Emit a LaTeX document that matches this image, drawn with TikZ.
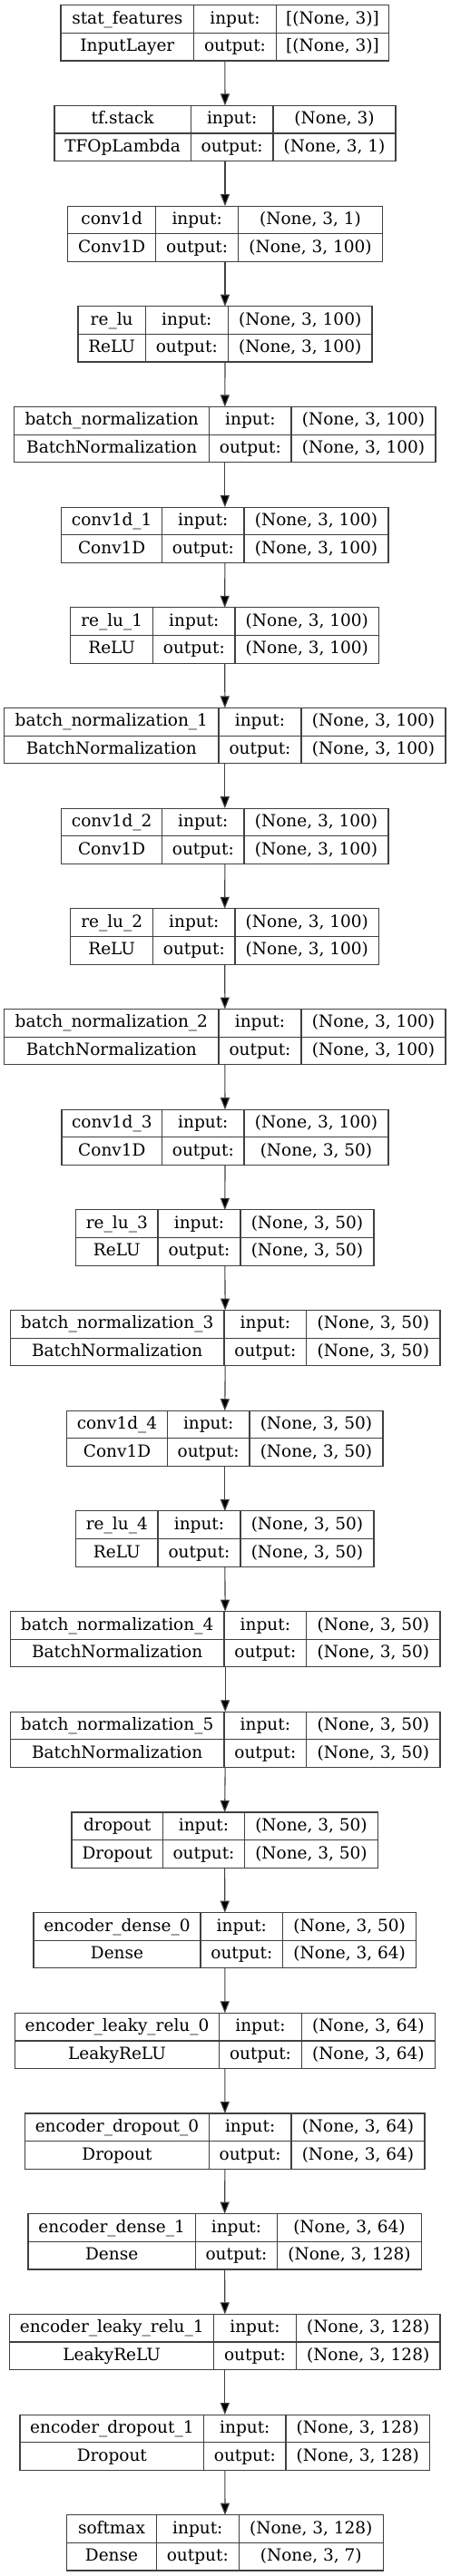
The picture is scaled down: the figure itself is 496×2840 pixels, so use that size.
\documentclass[tikz,border=0pt]{standalone}
\usepackage{fontspec}
\setmainfont{DejaVu Serif}
\usetikzlibrary{arrows.meta}
\tikzset{
  boxline/.style={draw=black!75, line width=1.1pt},
  cell/.style={inner sep=0pt, outer sep=0pt, font=\fontsize{18.5}{22}\selectfont, text=black, anchor=base},
  flow/.style={draw=black!75, line width=1.1pt, -{Triangle[length=13pt,width=10pt,fill=black]}},
}
\newcommand\layer[9]{%
  \pgfmathsetmacro\LyTop{5.7+110.68*#1}%
  \pgfmathsetmacro\LyBot{\LyTop+61.3}%
  \pgfmathsetmacro\LyMid{\LyTop+30.65}%
  \pgfmathsetmacro\LyRa{\LyTop+20.4}%
  \pgfmathsetmacro\LyRb{\LyTop+51.1}%
  \pgfmathsetmacro\LyWd{#5-#2}%
  \pgfmathsetmacro\LyCa{(#2+#3)/2}%
  \pgfmathsetmacro\LyCb{(#3+#4)/2}%
  \pgfmathsetmacro\LyCc{(#4+#5)/2}%
  \node[boxline, minimum width=\LyWd pt, minimum height=61.3pt, inner sep=0pt, outer sep=0pt, anchor=north west] (l#1) at (#2,\LyTop) {};
  \draw[boxline] (#2,\LyMid) -- (#5,\LyMid);
  \draw[boxline] (#3,\LyTop) -- (#3,\LyBot);
  \draw[boxline] (#4,\LyTop) -- (#4,\LyBot);
  \node[cell] (l#1t) at (\LyCa,\LyRa) {#6};
  \node[cell] (l#1c) at (\LyCa,\LyRb) {#7};
  \node[cell] (l#1i) at (\LyCb,\LyRa) {input:};
  \node[cell] (l#1o) at (\LyCb,\LyRb) {output:};
  \node[cell] (l#1a) at (\LyCc,\LyRa) {#8};
  \node[cell] (l#1b) at (\LyCc,\LyRb) {#9};
}
\begin{document}
\begin{tikzpicture}[x=1pt,y=-1pt]
\fill[white] (0,0) rectangle (496,2840);
\useasboundingbox (0,0) rectangle (496,2840);
\layer{0}{67}{213.7}{304.3}{428.7}{stat\_features}{InputLayer}{[(None, 3)]}{[(None, 3)]}
\layer{1}{60}{210.3}{301}{436}{tf.stack}{TFOpLambda}{(None, 3)}{(None, 3, 1)}
\layer{2}{74.7}{171.7}{262.7}{421.3}{conv1d}{Conv1D}{(None, 3, 1)}{(None, 3, 100)}
\layer{3}{86}{160.3}{251.3}{410}{re\_lu}{ReLU}{(None, 3, 100)}{(None, 3, 100)}
\layer{4}{15.7}{230.7}{321}{480}{batch\_normalization}{BatchNormalization}{(None, 3, 100)}{(None, 3, 100)}
\layer{5}{67.7}{178.7}{269}{428}{conv1d\_1}{Conv1D}{(None, 3, 100)}{(None, 3, 100)}
\layer{6}{77.7}{168.7}{259}{417.7}{re\_lu\_1}{ReLU}{(None, 3, 100)}{(None, 3, 100)}
\layer{7}{4.7}{241}{332}{491}{batch\_normalization\_1}{BatchNormalization}{(None, 3, 100)}{(None, 3, 100)}
\layer{8}{67.7}{178.7}{269}{428}{conv1d\_2}{Conv1D}{(None, 3, 100)}{(None, 3, 100)}
\layer{9}{77.7}{168.7}{259}{417.7}{re\_lu\_2}{ReLU}{(None, 3, 100)}{(None, 3, 100)}
\layer{10}{4.7}{241}{332}{491}{batch\_normalization\_2}{BatchNormalization}{(None, 3, 100)}{(None, 3, 100)}
\layer{11}{68}{178.7}{269}{428}{conv1d\_3}{Conv1D}{(None, 3, 100)}{(None, 3, 50)}
\layer{12}{83.7}{174}{265}{412}{re\_lu\_3}{ReLU}{(None, 3, 50)}{(None, 3, 50)}
\layer{13}{11.3}{247}{337.7}{485}{batch\_normalization\_3}{BatchNormalization}{(None, 3, 50)}{(None, 3, 50)}
\layer{14}{73.7}{184.3}{275}{422}{conv1d\_4}{Conv1D}{(None, 3, 50)}{(None, 3, 50)}
\layer{15}{83.7}{174}{265}{412}{re\_lu\_4}{ReLU}{(None, 3, 50)}{(None, 3, 50)}
\layer{16}{11.3}{247}{337.7}{485}{batch\_normalization\_4}{BatchNormalization}{(None, 3, 50)}{(None, 3, 50)}
\layer{17}{11.3}{247}{337.7}{485}{batch\_normalization\_5}{BatchNormalization}{(None, 3, 50)}{(None, 3, 50)}
\layer{18}{79}{179.3}{269.7}{416.3}{dropout}{Dropout}{(None, 3, 50)}{(None, 3, 50)}
\layer{19}{37}{221}{311.7}{458.7}{encoder\_dense\_0}{Dense}{(None, 3, 50)}{(None, 3, 64)}
\layer{20}{16.3}{241.7}{332.3}{479.3}{encoder\_leaky\_relu\_0}{LeakyReLU}{(None, 3, 64)}{(None, 3, 64)}
\layer{21}{27.7}{230.3}{321}{468}{encoder\_dropout\_0}{Dropout}{(None, 3, 64)}{(None, 3, 64)}
\layer{22}{31}{215.3}{305.7}{464.3}{encoder\_dense\_1}{Dense}{(None, 3, 64)}{(None, 3, 128)}
\layer{23}{10.7}{235.7}{326.3}{485}{encoder\_leaky\_relu\_1}{LeakyReLU}{(None, 3, 128)}{(None, 3, 128)}
\layer{24}{22}{224.7}{315}{473.7}{encoder\_dropout\_1}{Dropout}{(None, 3, 128)}{(None, 3, 128)}
\layer{25}{73.7}{172.3}{263.3}{422.3}{softmax}{Dense}{(None, 3, 128)}{(None, 3, 7)}
\foreach \i [evaluate=\i as \j using int(\i+1)] in {0,...,24}
  \draw[flow] (l\i.south) -- (l\j.north);
\end{tikzpicture}
\end{document}
